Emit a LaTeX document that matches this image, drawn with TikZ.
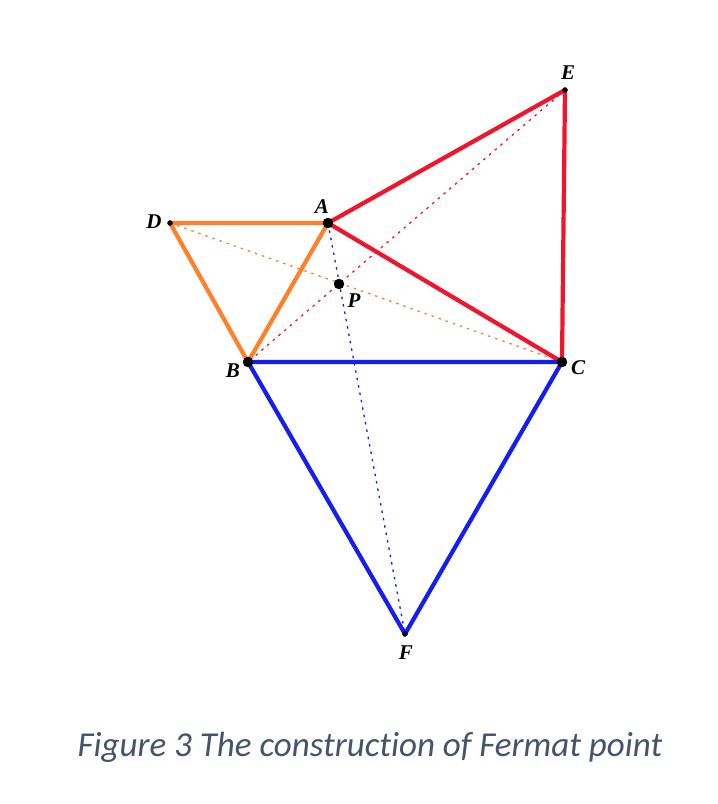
\documentclass[tikz,border=0pt]{standalone}
\usepackage{fontspec}
\setmainfont{Liberation Serif}
\newfontfamily\capfont[Ligatures=NoCommon]{Carlito}
\definecolor{laranja}{RGB}{255,128,40}
\definecolor{vermelho}{RGB}{240,20,45}
\definecolor{azul}{RGB}{20,30,240}
\definecolor{legenda}{RGB}{68,84,106}
\tikzset{
  lado/.style={line width=4.2pt, line cap=round, line join=round},
  tracejado/.style={line width=1.3pt, dash pattern=on 2.5pt off 5pt},
  rotulo/.style={font=\fontsize{21}{21}\selectfont\bfseries\itshape},
}
\begin{document}
\begin{tikzpicture}[x=1pt,y=1pt]
        \useasboundingbox (0,0) rectangle (718,804);
        \fill[white] (0,0) rectangle (718,804);

        % Pontos do triangulo e dos triangulos equilateros
        \coordinate (A) at (328,581);
        \coordinate (B) at (248,442);
        \coordinate (C) at (562,442);
        \coordinate (D) at (170,581);
        \coordinate (E) at (565,714);
        \coordinate (F) at (405,170);
        \coordinate (P) at (339,520);

        % Linhas tracejadas
        \draw[tracejado, laranja] (D) -- (C);
        \draw[tracejado, vermelho] (E) -- (B);
        \draw[tracejado, azul] (A) -- (F);

        % Lados
        \draw[lado, azul] (B) -- (C) -- (F) -- cycle;
        \draw[lado, laranja] (A) -- (B) -- (D) -- cycle;
        \draw[lado, vermelho] (A) -- (C) -- (E) -- cycle;
        \draw[lado, azul] (B) -- (C);

        \filldraw[black] (A) circle (5pt);
        \filldraw[black] (B) circle (5pt);
        \filldraw[black] (C) circle (5pt);
        \filldraw[black] (P) circle (5pt);
        \filldraw[black] (D) circle (2.5pt);
        \filldraw[black] (E) circle (2.5pt);
        \filldraw[black] (F) circle (2.5pt);

        \node[rotulo] (lA) at (322,597) {A};
        \node[rotulo] (lB) at (233,433) {B};
        \node[rotulo] (lC) at (578,436) {C};
        \node[rotulo] (lD) at (154,582) {D};
        \node[rotulo] (lE) at (568,731) {E};
        \node[rotulo] (lF) at (406,151) {F};
        \node[rotulo] (lP) at (354,503) {P};

        \node[anchor=base, text=legenda, font=\capfont\itshape\fontsize{35}{35}\selectfont] (legenda) at (370,47) {Figure 3 The construction of Fermat point};
\end{tikzpicture}
\end{document}
